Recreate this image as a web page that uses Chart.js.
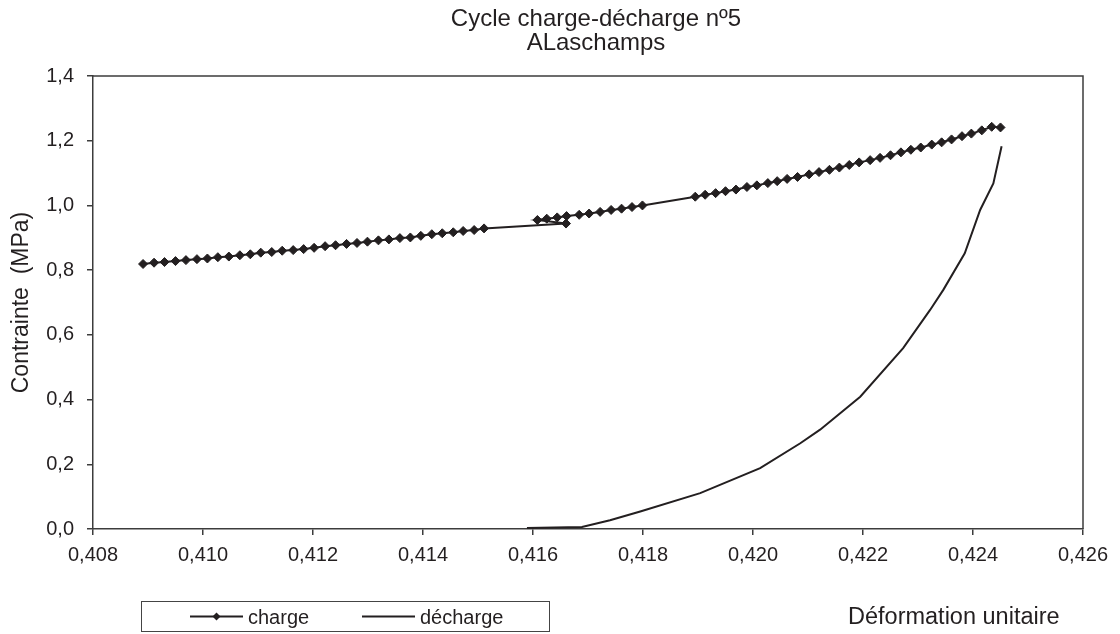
<!DOCTYPE html>
<html lang="fr">
<head>
<meta charset="utf-8">
<title>Cycle charge-décharge nº5</title>
<script src="https://cdn.jsdelivr.net/npm/chart.js@4.4.1/dist/chart.umd.min.js"></script>
<style>
  html, body { margin: 0; padding: 0; background: #fff; }
  #wrap { position: relative; width: 1120px; height: 634px; }
</style>
</head>
<body>
<div id="wrap"><canvas id="cycle-chart"></canvas></div>
<script>
// valeurs
const chargeX = [
  0.40891, 0.40911, 0.40930, 0.40950, 0.40969, 0.40989, 0.41008, 0.41027, 0.41047, 0.41067,
  0.41086, 0.41105, 0.41125, 0.41144, 0.41164, 0.41183, 0.41202, 0.41222, 0.41241, 0.41261,
  0.41280, 0.41299, 0.41319, 0.41338, 0.41358, 0.41377, 0.41396, 0.41416, 0.41435, 0.41455,
  0.41473, 0.41493, 0.41511,
  0.41660, 0.41608, 0.41625, 0.41644, 0.41661, 0.41684, 0.41702, 0.41722, 0.41742, 0.41761,
  0.41780, 0.41799,
  0.41895, 0.41913, 0.41932, 0.41950, 0.41969, 0.41989, 0.42007, 0.42027, 0.42044, 0.42062,
  0.42081, 0.42102, 0.42120, 0.42139, 0.42157, 0.42175, 0.42193, 0.42213, 0.42231, 0.42250,
  0.42269, 0.42287, 0.42305, 0.42325, 0.42343, 0.42361, 0.42380, 0.42397, 0.42416, 0.42434,
  0.42450
];
const chargeY = [
  0.819, 0.823, 0.825, 0.828, 0.831, 0.834, 0.836, 0.840, 0.842, 0.846,
  0.849, 0.854, 0.856, 0.860, 0.862, 0.865, 0.869, 0.874, 0.877, 0.881,
  0.884, 0.888, 0.892, 0.895, 0.899, 0.901, 0.906, 0.911, 0.914, 0.917,
  0.921, 0.924, 0.929,
  0.944, 0.955, 0.959, 0.963, 0.967, 0.971, 0.975, 0.980, 0.986, 0.990,
  0.995, 1.000,
  1.027, 1.033, 1.038, 1.044, 1.049, 1.057, 1.062, 1.069, 1.075, 1.082,
  1.088, 1.096, 1.103, 1.110, 1.117, 1.125, 1.133, 1.140, 1.147, 1.155,
  1.164, 1.172, 1.179, 1.188, 1.195, 1.204, 1.214, 1.222, 1.232, 1.243,
  1.241
];
const dechargeX = [
  0.42452, 0.42437, 0.42413, 0.42385, 0.42346, 0.42322, 0.42273, 0.42195,
  0.42122, 0.42086, 0.42013, 0.41904, 0.41795, 0.41740, 0.41689, 0.41589
];
const dechargeY = [
  1.183, 1.068, 0.986, 0.852, 0.739, 0.677, 0.559, 0.409,
  0.307, 0.265, 0.188, 0.111, 0.054, 0.027, 0.006, 0.003
];
const xTickValues = [0.408, 0.410, 0.412, 0.414, 0.416, 0.418, 0.420, 0.422, 0.424, 0.426];
const yTickValues = [0, 0.2, 0.4, 0.6, 0.8, 1.0, 1.2, 1.4];
const titleLines = ['Cycle charge-décharge nº5', 'ALaschamps'];
const seriesNames = ['charge', 'décharge'];
const xTitle = 'Déformation unitaire';
const yTitle = 'Contrainte  (MPa)';

const family = '"Liberation Sans", Arial, sans-serif';
const ink = '#231f20';
const axisColor = '#3c3c3c';

const toPoints = (xs, ys) => xs.map((x, i) => ({ x: x, y: ys[i] }));

function diamond(ctx, x, y, r) {
  ctx.beginPath();
  ctx.moveTo(x - r, y);
  ctx.lineTo(x, y - r);
  ctx.lineTo(x + r, y);
  ctx.lineTo(x, y + r);
  ctx.closePath();
  ctx.fill();
}

// titre, cadre, légende et titre de l'axe X
const decor = {
  id: 'decor',
  beforeDatasetsDraw(chart) {
    const { ctx, chartArea: a } = chart;
    ctx.save();
    ctx.strokeStyle = axisColor;
    ctx.lineWidth = 1.5;
    ctx.beginPath();
    ctx.moveTo(a.left, a.top);
    ctx.lineTo(a.right, a.top);
    ctx.lineTo(a.right, a.bottom);
    ctx.stroke();
    ctx.restore();
  },
  afterDraw(chart) {
    const ctx = chart.ctx;
    ctx.save();
    ctx.fillStyle = ink;
    ctx.textBaseline = 'alphabetic';

    ctx.font = '24px ' + family;
    ctx.textAlign = 'center';
    titleLines.forEach((t, i) => ctx.fillText(t, 596, 26 + i * 23.5));

    // légende
    ctx.strokeStyle = '#444';
    ctx.lineWidth = 1;
    ctx.strokeRect(141.5, 601.5, 408, 30);

    ctx.strokeStyle = ink;
    ctx.lineWidth = 2;
    ctx.beginPath();
    ctx.moveTo(190, 616.5); ctx.lineTo(243, 616.5);
    ctx.moveTo(362, 616.5); ctx.lineTo(415, 616.5);
    ctx.stroke();
    diamond(ctx, 216.5, 616.5, 4);

    ctx.font = '20px ' + family;
    ctx.textAlign = 'left';
    ctx.fillText(seriesNames[0], 248, 624);
    ctx.fillText(seriesNames[1], 420, 624);

    ctx.font = '23.5px ' + family;
    ctx.fillText(xTitle, 848, 624);
    ctx.restore();
  }
};

const ctx = document.getElementById('cycle-chart').getContext('2d');
new Chart(ctx, {
  type: 'scatter',
  data: {
    datasets: [
      {
        label: seriesNames[0],
        data: toPoints(chargeX, chargeY),
        showLine: true,
        borderColor: ink,
        backgroundColor: ink,
        borderWidth: 2,
        pointStyle: 'rectRot',
        pointRadius: 4.5,
        pointBorderWidth: 1,
        pointHoverRadius: 4.5,
        tension: 0
      },
      {
        label: seriesNames[1],
        data: toPoints(dechargeX, dechargeY),
        showLine: true,
        borderColor: ink,
        backgroundColor: ink,
        borderWidth: 2,
        pointRadius: 0,
        pointHoverRadius: 0,
        tension: 0
      }
    ]
  },
  options: {
    responsive: true,
    maintainAspectRatio: false,
    animation: false,
    layout: { padding: { left: 0, top: 76, right: 37, bottom: 0 } },
    plugins: {
      legend: { display: false },
      title: { display: false },
      tooltip: { enabled: false }
    },
    scales: {
      x: {
        type: 'linear',
        min: xTickValues[0],
        max: xTickValues[xTickValues.length - 1],
        afterBuildTicks: (scale) => { scale.ticks = xTickValues.map(v => ({ value: v })); },
        afterFit: (scale) => { scale.height = 105; },
        grid: { drawOnChartArea: false, drawTicks: true, tickLength: 6, color: axisColor, lineWidth: 1.5 },
        border: { display: true, color: axisColor, width: 1.5 },
        ticks: {
          autoSkip: false,
          maxRotation: 0,
          padding: 8,
          color: ink,
          font: { family: family, size: 20 },
          callback: (v) => Number(v).toFixed(3).replace('.', ',')
        }
      },
      y: {
        type: 'linear',
        min: yTickValues[0],
        max: yTickValues[yTickValues.length - 1],
        afterBuildTicks: (scale) => { scale.ticks = yTickValues.map(v => ({ value: v })); },
        afterFit: (scale) => { scale.width = 93; },
        grid: { drawOnChartArea: false, drawTicks: true, tickLength: 6, color: axisColor, lineWidth: 1.5 },
        border: { display: true, color: axisColor, width: 1.5 },
        ticks: {
          padding: 13,
          color: ink,
          font: { family: family, size: 20 },
          callback: (v) => Number(v).toFixed(1).replace('.', ',')
        },
        title: {
          display: true,
          text: yTitle,
          color: ink,
          padding: { top: 8, bottom: 0 },
          font: { family: family, size: 23 }
        }
      }
    }
  },
  plugins: [decor]
});
</script>
</body>
</html>
